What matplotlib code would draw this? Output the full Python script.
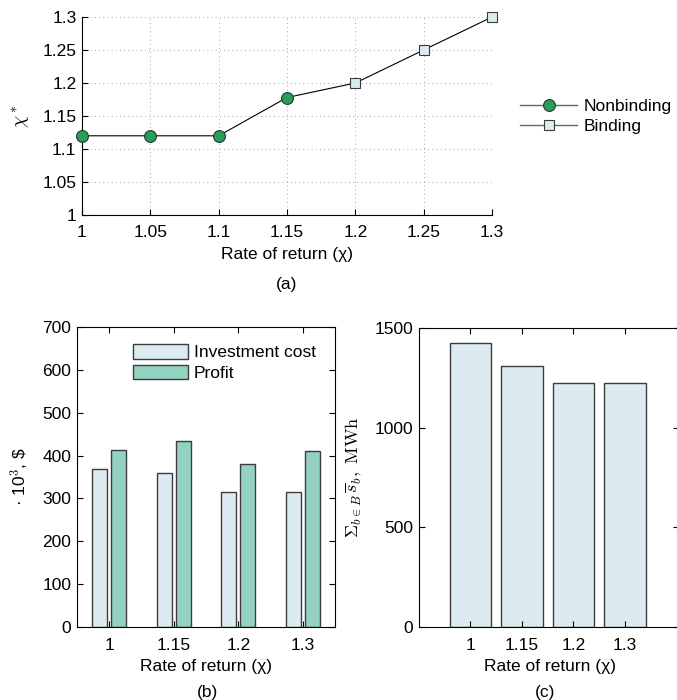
import matplotlib
matplotlib.use("Agg")
import matplotlib.pyplot as plt
from matplotlib.lines import Line2D
from matplotlib.patches import Patch
import numpy as np

plt.rcParams['font.family'] = ['Liberation Sans', 'DejaVu Sans']
plt.rcParams['mathtext.fontset'] = 'cm'
FS = 12.5
plt.rcParams['font.size'] = FS

# ---- data ----
rate_nonbinding = [1.00, 1.05, 1.10, 1.15]
chi_nonbinding = [1.12, 1.12, 1.12, 1.178]
rate_binding = [1.20, 1.25, 1.30]
chi_binding = [1.20, 1.25, 1.30]
top_ticks = [1.00, 1.05, 1.10, 1.15, 1.20, 1.25, 1.30]
top_ticklabels = ['1', '1.05', '1.1', '1.15', '1.2', '1.25', '1.3']

bar_categories = ['1', '1.15', '1.2', '1.3']
investment_cost = [369, 359, 316, 316]
profit = [413, 435, 380, 411]
storage_mwh = [1425, 1310, 1225, 1225]

W, H = 677, 700
fig = plt.figure(figsize=(W / 100, H / 100), dpi=100)

def ax_px(l, t, r, b):
    return fig.add_axes([l / W, 1 - b / H, (r - l) / W, (b - t) / H])

green = '#2a9d5c'
lightblue = '#dcebf0'
teal = '#93d1c1'
edge = '#3c3c3c'

# ---- (a) ----
ax = ax_px(82, 17, 492, 215)
all_x = rate_nonbinding + rate_binding
all_y = chi_nonbinding + chi_binding
ax.plot(all_x, all_y, color='black', lw=0.8, zorder=3, clip_on=False)
ax.plot(rate_nonbinding, chi_nonbinding, ls='none', marker='o', ms=8.5,
        mfc=green, mec='#1e3a28', mew=0.8, zorder=4, clip_on=False)
ax.plot(rate_binding, chi_binding, ls='none', marker='s', ms=7,
        mfc=lightblue, mec='#3a3a3a', mew=0.8, zorder=4, clip_on=False)
ax.set_xlim(1.0, 1.3)
ax.set_ylim(1.0, 1.3)
ax.set_xticks(top_ticks)
ax.set_xticklabels(top_ticklabels)
ax.set_yticks(top_ticks)
ax.set_yticklabels(top_ticklabels)
ax.grid(True, color='#8a8a8a', lw=0.6, linestyle=(0, (1, 4)))
for s in ['top', 'right']:
    ax.spines[s].set_visible(False)
ax.tick_params(direction='in', length=4, width=0.8)
ax.tick_params(axis='x', pad=7)
ax.tick_params(axis='y', pad=4)
ax.set_xlabel('Rate of return (χ)', va='center')
ax.xaxis.set_label_coords(0.5, (215 - 254) / 198)
ax.set_ylabel(r'$\chi^*$', fontsize=14, va='center')
ax.yaxis.set_label_coords((22 - 82) / 410, 0.5)
fig.text(287 / W, 1 - 284 / H, '(a)', ha='center', va='center')

handles = [Line2D([], [], color='#666666', lw=1, marker='o', ms=8.5,
                  mfc=green, mec='#1e3a28', mew=0.8),
           Line2D([], [], color='#666666', lw=1, marker='s', ms=7,
                  mfc=lightblue, mec='#3a3a3a', mew=0.8)]
fig.legend(handles, ['Nonbinding', 'Binding'], loc='center left',
           bbox_to_anchor=(520 / W, 1 - 116.5 / H), frameon=False,
           borderpad=0, borderaxespad=0, handlelength=3.3,
           handletextpad=0.35, labelspacing=0.3, fontsize=FS)

# ---- (b) ----
axb = ax_px(77, 327, 335, 627)
x = np.arange(1, len(bar_categories) + 1)
bw = 0.23
off = 0.146
axb.bar(x - off, investment_cost, width=bw, color=lightblue, edgecolor=edge,
        lw=1.0, label='Investment cost')
axb.bar(x + off, profit, width=bw, color=teal, edgecolor=edge, lw=1.0,
        label='Profit')
axb.set_xlim(0.5, 4.5)
axb.set_ylim(0, 700)
axb.set_xticks(x)
axb.set_xticklabels(bar_categories)
axb.set_yticks(range(0, 701, 100))
axb.tick_params(direction='in', length=4, width=0.8, top=True, right=True)
axb.tick_params(axis='x', pad=8)
axb.tick_params(axis='y', pad=4)
axb.set_xlabel('Rate of return (χ)', va='center')
axb.xaxis.set_label_coords(0.5, (627 - 667) / 300)
axb.set_ylabel('· 10$^3$, \\$', va='center')
axb.yaxis.set_label_coords((20 - 77) / 258, 0.5)
fig.text(207 / W, 1 - 692 / H, '(b)', ha='center', va='center')
lh = [Patch(facecolor=lightblue, edgecolor=edge, lw=1.0),
      Patch(facecolor=teal, edgecolor=edge, lw=1.0)]
fig.legend(lh, ['Investment cost', 'Profit'], loc='center left',
           bbox_to_anchor=(133 / W, 1 - 362.5 / H), frameon=False,
           borderpad=0, borderaxespad=0, handlelength=3.16, handleheight=0.92,
           handletextpad=0.35, labelspacing=0.25, fontsize=FS)

# ---- (c) ----
axc = ax_px(419, 328, 679, 627)
axc.bar(x, storage_mwh, width=0.8, color=lightblue, edgecolor=edge, lw=1.0)
axc.set_xlim(0, 5.05)
axc.set_ylim(0, 1500)
axc.set_xticks(x)
axc.set_xticklabels(bar_categories)
axc.set_yticks([0, 500, 1000, 1500])
axc.tick_params(direction='in', length=4, width=0.8, top=True, right=True)
axc.tick_params(axis='x', pad=8)
axc.tick_params(axis='y', pad=4)
axc.set_xlabel('Rate of return (χ)', va='center')
axc.xaxis.set_label_coords((550 - 419) / 260, (627 - 667) / 299)
axc.set_ylabel(r'$\Sigma_{b\in B}\,\overline{s}_b,\ \mathrm{MWh}$', fontsize=13,
               va='center')
axc.yaxis.set_label_coords((354 - 419) / 260, 0.5)
fig.text(545 / W, 1 - 692 / H, '(c)', ha='center', va='center')

fig.savefig('out.png', dpi=100)
